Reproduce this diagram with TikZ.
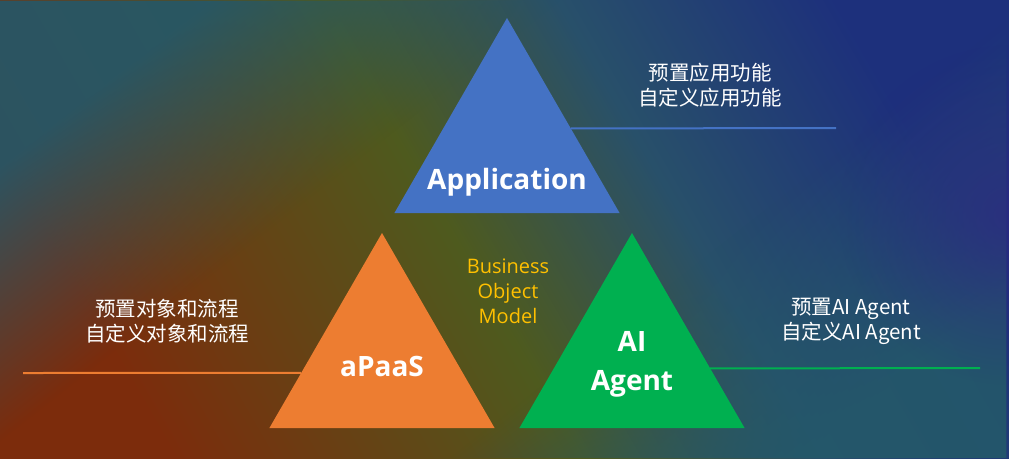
\documentclass[tikz,border=0pt]{standalone}
\usepackage{fontspec}
\setmainfont{Open Sans}
\newfontfamily\cjk{Noto Sans CJK SC}
\usepackage{tikz}
\usetikzlibrary{shapes.geometric,fadings}

\definecolor{appblue}{HTML}{4472C4}
\definecolor{paasorange}{HTML}{ED7D31}
\definecolor{agentgreen}{HTML}{00B050}
\definecolor{bomyellow}{HTML}{FFC000}
\definecolor{bgrust}{HTML}{7C2C0C}
\definecolor{bgolive}{HTML}{4E5A1E}
\definecolor{bgteal}{HTML}{28506A}
\definecolor{bgblue}{HTML}{1D307C}
\definecolor{bgcorner}{HTML}{24586A}
\definecolor{bgpurple}{HTML}{2C2A82}
\pgfdeclarehorizontalshading{bgdiag}{100bp}{color(0bp)=(bgrust); color(25bp)=(bgrust);
  color(47bp)=(bgolive); color(60bp)=(bgteal); color(75bp)=(bgblue); color(100bp)=(bgblue)}
\pgfdeclarehorizontalshading{cornermask}{100bp}{color(0bp)=(white); color(25bp)=(white);
  color(40bp)=(black); color(60bp)=(black); color(75bp)=(white); color(100bp)=(white)}
\pgfdeclarefading{cornerfade}{\pgfuseshading{cornermask}}
\pgfdeclareradialshading{glowmask}{\pgfpoint{0bp}{0bp}}{color(0bp)=(white);
  color(25bp)=(black); color(50bp)=(black)}
\pgfdeclarefading{glowfade}{\pgfuseshading{glowmask}}

\begin{document}
\begin{tikzpicture}[
  x=1pt, y=-1pt,
  tri/.style={regular polygon,regular polygon sides=3,minimum size=260pt,
    inner sep=0pt,outer sep=0pt},
  title/.style={text=white,align=center,font=\bfseries\fontsize{28}{39}\selectfont},
  note/.style={text=white,align=center,font=\cjk\fontsize{20.5}{25}\selectfont},
  tieline/.style={draw=#1,line width=2pt}]
% background
\useasboundingbox (0,0) rectangle (1009,458);
\shade[shading=bgdiag,shading angle=30] (0,0) rectangle (1009,458);
\fill[bgcorner,opacity=0.9,path fading=cornerfade,fading angle=-30] (0,0) rectangle (1009,458);
\begin{scope}
\clip (0,0) rectangle (1009,458);
\fill[bgpurple,opacity=0.8,path fading=glowfade] (1009,215) circle (170);
\end{scope}

\node[tri,fill=appblue] (app) at (507,148) {};
\node[tri,fill=paasorange] (pa) at (382,363) {};
\node[tri,fill=agentgreen] (ai) at (632,363) {};

\coordinate (append) at (836,128);
\coordinate (paend) at (23,373);
\coordinate (aiend) at (980,368);
\draw[tieline=appblue] (app.17) -- (append);
\draw[tieline=paasorange] (pa.187) -- (paend);
\draw[tieline=agentgreen] (ai.-4) -- (aiend);

\node[title] (apptxt) at (507,182) {Application};
\node[title] (patxt) at (382,366) {aPaaS};
\node[title] (aitxt) at (632,364) {AI\\Agent};
\node[text=bomyellow,align=center,font=\fontsize{20}{25}\selectfont] (bom)
  at (508,291) {Business\\Object\\Model};

\node[note] (appnote) at (710,85) {预置应用功能\\自定义应用功能};
\node[note] (panote) at (167,321) {预置对象和流程\\自定义对象和流程};
\node[note] (ainote) at (851,321) {预置AI Agent\\自定义AI Agent};
\end{tikzpicture}
\end{document}
